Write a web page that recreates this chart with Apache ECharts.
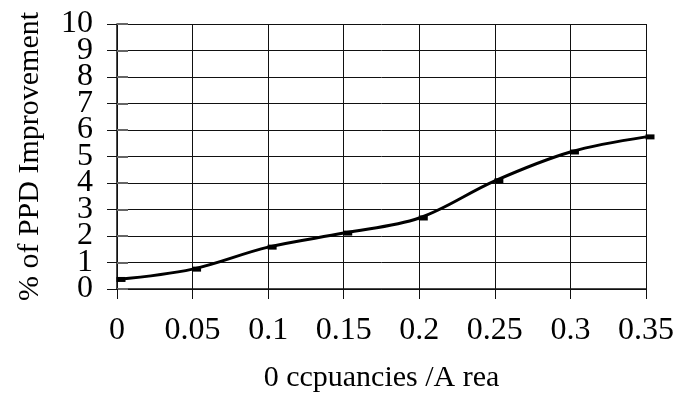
<!DOCTYPE html>
<html>
<head>
<meta charset="utf-8">
<script src="https://cdn.jsdelivr.net/npm/echarts@6/dist/echarts.min.js"></script>
<style>html,body{margin:0;padding:0;background:#fff}#c{width:677px;height:402px}</style>
</head>
<body>
<div id="c"></div>
<script>
var occupancies = [0, 0.05, 0.1, 0.15, 0.2, 0.25, 0.3, 0.35];
var improvement = [0.36, 0.75, 1.58, 2.11, 2.68, 4.08, 5.17, 5.74];
var yTickLabels = ['0', '1', '2', '3', '4', '5', '6', '7', '8', '9', '10'];
var xTitle = '0 ccpuancies /A rea';
var yTitle = '% of PPD Improvement';

var font = 'Liberation Serif';
var chart = echarts.init(document.getElementById('c'));
var data = occupancies.map(function (x, i) { return [x, improvement[i]]; });
chart.setOption({
  animation: false,
  backgroundColor: '#fff',
  grid: { left: 117, right: 29, top: 24, bottom: 113, show: false },
  xAxis: {
    type: 'value', min: 0, max: 0.35, interval: 0.05,
    name: xTitle, nameLocation: 'middle', nameGap: 74,
    nameTextStyle: { fontFamily: font, fontSize: 30, color: '#000' },
    axisLine: { show: true, onZero: false, lineStyle: { color: '#111', width: 1.5 } },
    axisTick: { show: true, length: 10, lineStyle: { color: '#111', width: 1 } },
    axisLabel: { fontFamily: font, fontSize: 32, color: '#000', margin: 26, showMinLabel: true, showMaxLabel: true, hideOverlap: false },
    splitLine: { show: true, lineStyle: { color: '#111', width: 1 } }
  },
  yAxis: [{
    type: 'value', min: 0, max: 10, interval: 1,
    name: yTitle, nameLocation: 'middle', nameGap: 72,
    nameTextStyle: { fontFamily: font, fontSize: 30, color: '#000' },
    axisLine: { show: true, lineStyle: { color: '#111', width: 1.5 } },
    axisTick: { show: true, length: 10, lineStyle: { color: '#111', width: 1 } },
    axisLabel: { show: false },
    splitLine: { show: true, lineStyle: { color: '#111', width: 1 } }
  }, {
    type: 'category', data: yTickLabels, boundaryGap: false, position: 'left',
    axisLine: { show: false },
    axisTick: { show: true, inside: true, length: 11, interval: 0, lineStyle: { color: '#666', width: 2 } },
    axisLabel: { interval: 0, fontFamily: font, fontSize: 32, color: '#000', margin: 24 },
    splitLine: { show: false }
  }],
  series: [{
    type: 'line', data: data, smooth: 0.35,
    lineStyle: { color: '#000', width: 3 },
    symbol: 'rect', symbolSize: [9, 5], symbolOffset: [4, 0],
    itemStyle: { color: '#000' }
  }]
});
</script>
</body>
</html>
